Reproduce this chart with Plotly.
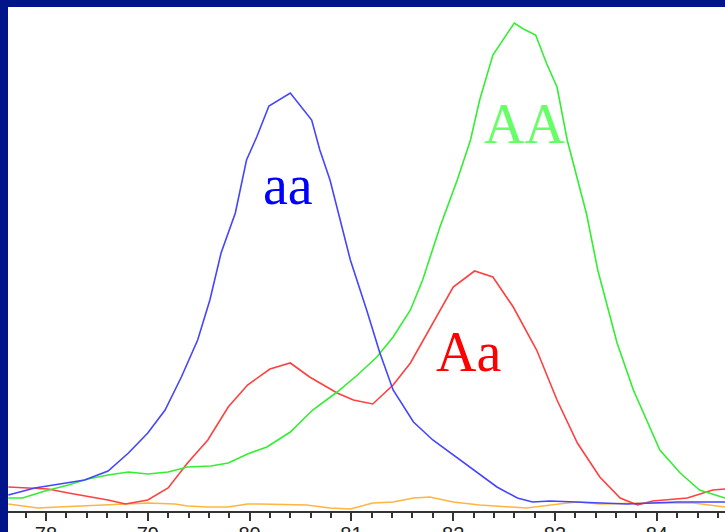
import plotly.graph_objects as go

# Melting-curve data (temperature in degC, arbitrary fluorescence units)
aa_temp = [77.63, 77.89, 78.38, 78.61, 78.81, 79.00, 79.17, 79.33, 79.49, 79.61, 79.72, 79.86,
           79.97, 80.07, 80.19, 80.40, 80.61, 80.69, 80.79, 80.89, 80.99, 81.15, 81.28, 81.41,
           81.61, 81.80, 82.04, 82.26, 82.43, 82.63, 82.78, 82.95, 83.22, 83.71, 84.20, 84.67]
aa_vals = [1.6, 2.3, 3.1, 4.0, 5.8, 7.8, 10.1, 13.4, 17.1, 21.1, 25.8, 29.8,
           35.1, 37.4, 40.5, 41.8, 39.1, 36.1, 33.1, 29.1, 25.1, 20.1, 15.8, 12.1,
           8.9, 7.1, 5.3, 3.7, 2.4, 1.3, 0.9, 1.0, 0.9, 0.7, 0.9, 0.9]

AA_temp = [77.63, 77.77, 77.99, 78.22, 78.41, 78.61, 78.81, 79.00, 79.20, 79.39, 79.62, 79.79,
           79.98, 80.17, 80.40, 80.62, 80.86, 81.06, 81.25, 81.41, 81.58, 81.70, 81.87, 82.04,
           82.17, 82.26, 82.39, 82.49, 82.60, 82.69, 82.81, 82.92, 83.02, 83.12, 83.22, 83.31,
           83.42, 83.61, 83.77, 84.03, 84.23, 84.42, 84.67]
AA_vals = [1.3, 1.3, 2.0, 2.6, 3.2, 3.6, 3.9, 3.7, 3.9, 4.4, 4.5, 4.8,
           5.7, 6.4, 7.9, 10.1, 11.9, 13.6, 15.4, 17.4, 20.1, 23.1, 28.4, 33.1,
           37.1, 41.1, 45.6, 47.1, 48.8, 48.2, 47.6, 44.7, 42.4, 37.1, 33.1, 29.7,
           24.1, 16.8, 12.1, 6.1, 3.8, 2.1, 1.3]

Aa_temp = [77.63, 78.02, 78.22, 78.61, 78.78, 79.00, 79.20, 79.39, 79.59, 79.79, 79.98, 80.20,
           80.40, 80.59, 80.86, 81.02, 81.21, 81.41, 81.58, 81.80, 82.00, 82.21, 82.39, 82.59,
           82.82, 83.02, 83.22, 83.44, 83.64, 83.81, 83.96, 84.30, 84.55, 84.67]
Aa_vals = [2.4, 2.2, 1.8, 1.1, 0.7, 1.1, 2.3, 4.8, 7.1, 10.4, 12.6, 14.2,
           14.8, 13.4, 11.8, 11.1, 10.7, 12.6, 14.8, 18.8, 22.4, 24.0, 23.4, 20.4,
           16.1, 11.1, 6.8, 3.4, 1.3, 0.6, 1.0, 1.3, 2.1, 2.2]

ntc_temp = [77.63, 77.92, 78.12, 78.61, 79.00, 79.27, 79.39, 79.59, 79.79, 79.98, 80.10, 80.56,
            80.79, 80.99, 81.21, 81.41, 81.61, 81.77, 82.00, 82.26, 82.72, 83.12, 83.22, 83.44,
            83.90, 84.36, 84.67]
ntc_vals = [0.7, 0.3, 0.4, 0.6, 0.8, 0.7, 0.5, 0.4, 0.4, 0.7, 0.7, 0.6,
            0.3, 0.2, 0.8, 0.9, 1.3, 1.4, 0.9, 0.6, 0.3, 0.8, 0.9, 0.7,
            0.8, 0.8, 0.4]

tick_vals = [78, 79, 80, 81, 82, 83, 84]
tick_text = ["78", "79", "80", "81", "82", "83", "84"]

labels = ["aa", "AA", "Aa"]
label_x = [80.38, 82.70, 82.15]
label_y = [32.6, 38.7, 15.9]
label_colors = ["#0000FF", "#66FF66", "#FF0000"]

NAVY = "#001589"

fig = go.Figure()
fig.add_trace(go.Scatter(x=ntc_temp, y=ntc_vals, mode="lines",
                         line=dict(color="#FFB53F", width=1.6), name="NTC"))
fig.add_trace(go.Scatter(x=Aa_temp, y=Aa_vals, mode="lines",
                         line=dict(color="#FF4040", width=1.6), name="Aa"))
fig.add_trace(go.Scatter(x=AA_temp, y=AA_vals, mode="lines",
                         line=dict(color="#33EE33", width=1.6), name="AA"))
fig.add_trace(go.Scatter(x=aa_temp, y=aa_vals, mode="lines",
                         line=dict(color="#4545FF", width=1.6), name="aa"))

for t, x, y, c in zip(labels, label_x, label_y, label_colors):
    fig.add_annotation(x=x, y=y, xref="x", yref="y", text=t, showarrow=False,
                       font=dict(family="Liberation Serif", size=56, color=c),
                       xanchor="center", yanchor="middle")

# white panel under the tick labels
fig.add_shape(type="rect", xref="paper", yref="paper", x0=0, x1=1, y0=-0.1, y1=1,
              fillcolor="white", line=dict(width=0), layer="below")

fig.update_layout(
    width=725, height=532,
    margin=dict(l=8, r=0, t=7, b=21),
    paper_bgcolor=NAVY, plot_bgcolor="white",
    showlegend=False,
    xaxis=dict(range=[77.627, 84.67], tickvals=tick_vals, ticktext=tick_text,
               ticks="outside", ticklen=8, tickwidth=2, tickcolor="#333",
               showline=True, linecolor="#333", linewidth=1.5,
               showgrid=False, zeroline=False, ticklabelstandoff=-4,
               automargin=False,
               tickfont=dict(family="Liberation Sans", size=20, color="#222"),
               minor=dict(dtick=0.2, tick0=78, ticks="outside", ticklen=5,
                          tickwidth=1.5, tickcolor="#333", showgrid=False)),
    yaxis=dict(range=[0, 50.4], visible=False, showgrid=False, zeroline=False),
)

fig.write_html("out.html", config={"displayModeBar": False},
               post_script="document.body.style.margin='0px';document.body.style.background='" + NAVY + "';")
